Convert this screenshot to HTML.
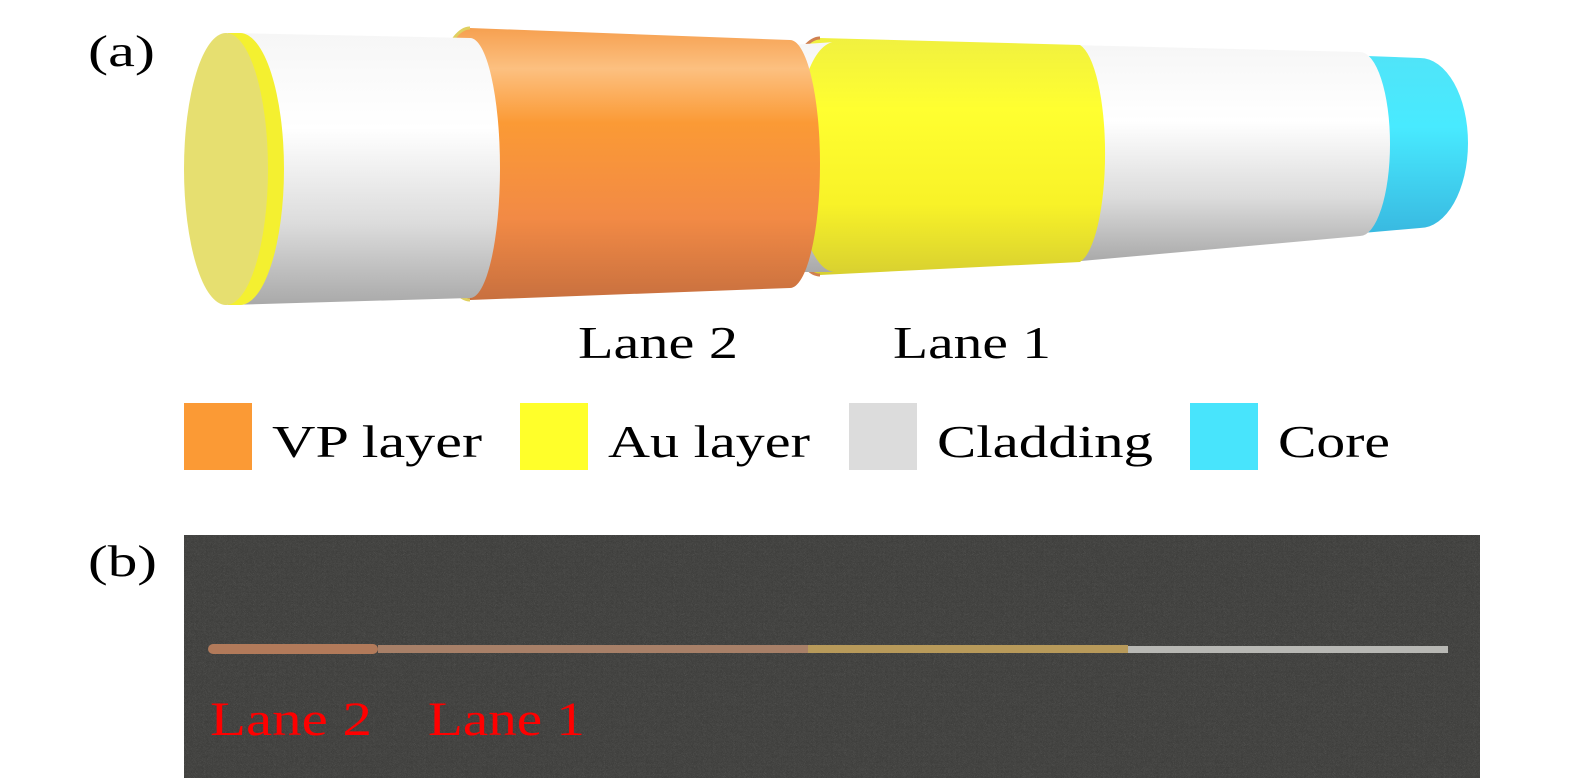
<!DOCTYPE html>
<html><head><meta charset="utf-8"><style>
body{margin:0;background:#fff;width:1575px;height:778px;overflow:hidden}
svg{display:block}
text{font-family:"Liberation Serif",serif}
</style></head><body>
<svg width="1575" height="778" viewBox="0 0 1575 778">
<defs>
<linearGradient id="w" x1="0" y1="0" x2="0" y2="1"><stop offset="0" stop-color="#f6f6f6"/><stop offset=".35" stop-color="#ffffff"/><stop offset=".7" stop-color="#dcdcdc"/><stop offset="1" stop-color="#a9a9a9"/></linearGradient>
<linearGradient id="o" x1="0" y1="0" x2="0" y2="1"><stop offset="0" stop-color="#f6a050"/><stop offset=".15" stop-color="#fcc080"/><stop offset=".35" stop-color="#fb9a35"/><stop offset=".7" stop-color="#f28a45"/><stop offset="1" stop-color="#c8703f"/></linearGradient>
<linearGradient id="y" x1="0" y1="0" x2="0" y2="1"><stop offset="0" stop-color="#f0f040"/><stop offset=".3" stop-color="#ffff30"/><stop offset=".7" stop-color="#f8f228"/><stop offset="1" stop-color="#d8d030"/></linearGradient>
<linearGradient id="c" x1="0" y1="0" x2="0" y2="1"><stop offset="0" stop-color="#50e4f8"/><stop offset=".4" stop-color="#48eaff"/><stop offset="1" stop-color="#38b8e0"/></linearGradient>
<filter id="n" filterUnits="userSpaceOnUse" x="184" y="535" width="1296" height="243"><feTurbulence baseFrequency="0.9" numOctaves="2" seed="3"/><feColorMatrix values="0 0 0 0 0.35 0 0 0 0 0.35 0 0 0 0 0.34 0 0 0 0.3 0"/></filter>
</defs>
<text x="88" y="66" font-size="44" textLength="67" lengthAdjust="spacingAndGlyphs">(a)</text>
<text x="88" y="576" font-size="44" textLength="69" lengthAdjust="spacingAndGlyphs">(b)</text>
<path d="M1340 55 L1420 58 A48 85 0 0 1 1420 228 L1340 235 Z" fill="url(#c)"/>
<path d="M1070 45 L1360 52 A30 92 0 0 1 1360 236 L1070 262 Z" fill="url(#w)"/>
<path d="M820 38 L1080 45 A30 110 0 0 1 1080 262 L820 275 A40 118 0 0 1 820 38 Z" fill="url(#y)"/>
<path d="M820 38 A40 118 0 0 0 820 275" fill="none" stroke="#d08050" stroke-width="3"/>
<path d="M790 45 L835 42 A40 115 0 0 0 835 272 L790 272 Z" fill="url(#w)"/>
<path d="M470 28 L790 40 A30 124 0 0 1 790 288 L470 300 A42 136 0 0 1 470 28 Z" fill="url(#o)"/>
<path d="M470 28 A42 136 0 0 0 470 300" fill="none" stroke="#e0d060" stroke-width="3"/>
<path d="M228 33 L470 38 A30 130 0 0 1 470 298 L228 305 Z" fill="url(#w)"/>
<path d="M228 33 L240 33 A44 136 0 0 1 240 305 L228 305 Z" fill="#f4f030"/>
<ellipse cx="226" cy="169" rx="42" ry="136" fill="#e6df70"/>
<text x="578" y="358" font-size="46" textLength="160" lengthAdjust="spacingAndGlyphs">Lane 2</text>
<text x="893" y="358" font-size="46" textLength="158" lengthAdjust="spacingAndGlyphs">Lane 1</text>
<rect x="184" y="403" width="68" height="67" fill="#fb9a35"/>
<text x="272" y="457" font-size="46" textLength="210" lengthAdjust="spacingAndGlyphs">VP layer</text>
<rect x="520" y="403" width="68" height="67" fill="#ffff2a"/>
<text x="608" y="457" font-size="46" textLength="202" lengthAdjust="spacingAndGlyphs">Au layer</text>
<rect x="849" y="403" width="68" height="67" fill="#dcdcdc"/>
<text x="937" y="457" font-size="46" textLength="216" lengthAdjust="spacingAndGlyphs">Cladding</text>
<rect x="1190" y="403" width="68" height="67" fill="#48e4fc"/>
<text x="1278" y="457" font-size="46" textLength="112" lengthAdjust="spacingAndGlyphs">Core</text>
<rect x="184" y="535" width="1296" height="243" fill="#3c3c3a"/>
<rect x="184" y="535" width="1296" height="243" filter="url(#n)"/>
<rect x="208" y="644" width="170" height="10" rx="5" fill="#b27a5a"/>
<rect x="378" y="645" width="430" height="8" fill="#a88068"/>
<rect x="808" y="645" width="320" height="8" fill="#b89a5a"/>
<rect x="1128" y="646" width="320" height="7" fill="#b8b8b4"/>
<text x="210" y="735" font-size="48" fill="#f00" textLength="162" lengthAdjust="spacingAndGlyphs">Lane 2</text>
<text x="428" y="735" font-size="48" fill="#f00" textLength="157" lengthAdjust="spacingAndGlyphs">Lane 1</text>
</svg>
</body></html>
